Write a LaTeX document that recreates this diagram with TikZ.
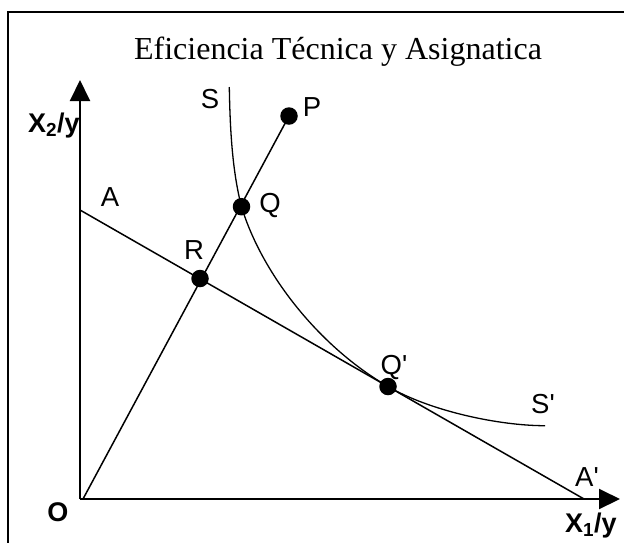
\documentclass[tikz,border=0pt]{standalone}
\usepackage{fontspec}
\setmainfont{Liberation Serif}
\setsansfont{Liberation Sans}
\usetikzlibrary{arrows.meta}
\begin{document}
\begin{tikzpicture}[x=1pt,y=-1pt,
  lbl/.style={font=\sffamily\fontsize{27.5}{32}\selectfont, inner sep=0pt},
  axlbl/.style={font=\sffamily\bfseries\fontsize{27}{32}\selectfont, inner sep=0pt},
  ttl/.style={font=\rmfamily\fontsize{32}{38}\selectfont, inner sep=0pt},
  dot/.style={circle, fill=black, inner sep=0pt, minimum size=17.5pt},
  ln/.style={line width=1.5pt},
  ax/.style={line width=2pt, -{Triangle[width=20pt,length=21pt]}}]
\useasboundingbox (0,0) rectangle (624,542);
\draw[line width=1.6pt] (8,12) rectangle (650,570);
% title
\node[ttl, anchor=base] (title) at (338,59.3) {Eficiencia Técnica y Asignatica};
% axes
\coordinate (O) at (80,499);
\coordinate (ytip) at (80,80);
\coordinate (xtip) at (620,499);
\draw[ax] (O) -- (ytip);
\draw[ax] (O) -- (xtip);
% budget line
\coordinate (A) at (80,210);
\coordinate (A2) at (584,499);
\draw[ln] (A) -- (A2);
% ray
\coordinate (ray0) at (83,499);
\node[dot] (P) at (289,116) {};
\node[dot] (Q) at (241.5,206.7) {};
\node[dot] (R) at (200,278.5) {};
\node[dot] (Q2) at (388,386.5) {};
\draw[ln] (ray0) -- (P.center);
% isoquant
\coordinate (Stop) at (229.3,87);
\coordinate (Send) at (545,425.7);
\draw[line width=1.3pt] (Stop) .. controls (230,127) and (232,170) .. (Q.center)
  .. controls (262,274) and (319,346.5) .. (Q2.center)
  .. controls (431,411.5) and (500,425.7) .. (Send);
% labels
\node[lbl] (lS) at (210,99.3) {S};
\node[lbl] (lP) at (312,107.5) {P};
\node[lbl] (lQ) at (270,205) {Q};
\node[lbl] (lR) at (194,250) {R};
\node[lbl] (lA) at (110,197) {A};
\node[lbl] (lQ2) at (394,367) {Q\textquotesingle};
\node[lbl] (lS2) at (543,404.5) {S\textquotesingle};
\node[lbl] (lA2) at (587,477) {A\textquotesingle};
\node[axlbl] (lO) at (58,512.5) {O};
\node[axlbl, anchor=base west] (lx2) at (28,132.3) {X\textsubscript{2}/y};
\node[axlbl, anchor=base west] (lx1) at (565,532) {X\textsubscript{1}/y};
\end{tikzpicture}
\end{document}
